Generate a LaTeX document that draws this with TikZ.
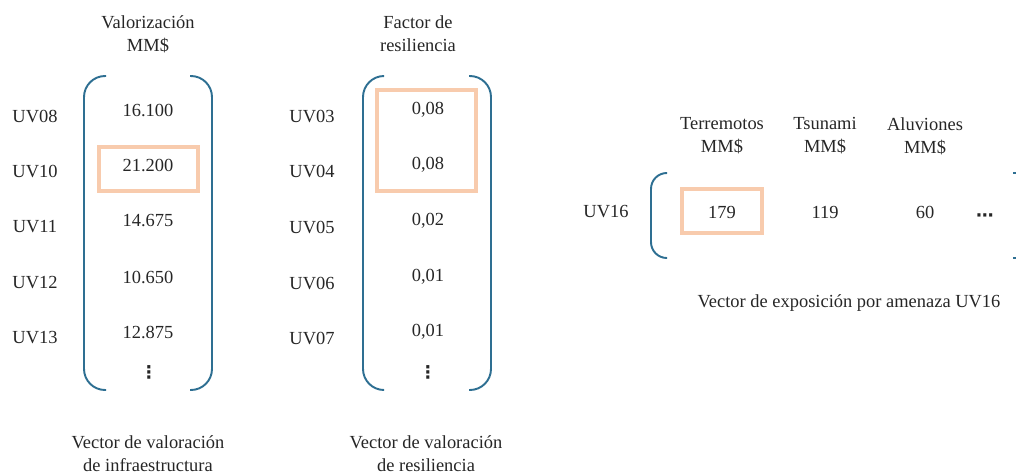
\documentclass[tikz,border=0pt]{standalone}
\usepackage{fontspec}
\setmainfont{Liberation Serif}
\newfontfamily\symfont{DejaVu Sans}
\usetikzlibrary{calc}

\definecolor{brk}{HTML}{2E6F92}
\definecolor{hl}{HTML}{F8CBAD}
\definecolor{txt}{HTML}{262626}

\begin{document}
\begin{tikzpicture}[
  x=0.02cm,y=-0.02cm,
  every node/.style={text=txt,font=\fontsize{10.5}{13}\selectfont,inner sep=1pt},
  head/.style={align=center},
  uv/.style={anchor=center},
  val/.style={anchor=center},
  capt/.style={align=center},
  dots/.style={font=\symfont\bfseries\fontsize{10}{12}\selectfont},
  paren/.style={draw=brk,line width=1.1pt,rounded corners=12pt},
  hlbox/.style={draw=hl,line width=2.4pt}]
\useasboundingbox (0,0) rectangle (1016,474);
\clip (0,0) rectangle (1016,474);

% vector 1: infraestructura
\node[head] (h1) at (148,34) {Valorización\\MM\$};
\draw[paren] (106,76) -- (84,76) -- (84,390) -- (106,390);
\draw[paren] (190,76) -- (212,76) -- (212,390) -- (190,390);
\foreach \y/\lab/\v [count=\i] in {116/UV08/16.100,171/UV10/21.200,227/UV11/14.675,
                                   283/UV12/10.650,338/UV13/12.875} {
  \node[uv] (a\i) at (35,\y) {\lab};
  \node[val] (va\i) at (148,\y-6) {\v};
}
\node[dots] (da) at (149,372) {⋮};
\draw[hlbox] (99,147) rectangle (198,191);
\node[capt] (c1) at (148,454) {Vector de valoración\\de infraestructura};

% vector 2: resiliencia
\node[head] (h2) at (418,34) {Factor de\\resiliencia};
\draw[paren] (384,76) -- (363,76) -- (363,390) -- (384,390);
\draw[paren] (469,76) -- (491,76) -- (491,390) -- (469,390);
\foreach \y/\lab/\v [count=\i] in {116/UV03/{0,08},171/UV04/{0,08},227/UV05/{0,02},
                                   283/UV06/{0,01},338/UV07/{0,01}} {
  \node[uv] (b\i) at (312,\y) {\lab};
  \node[val] (vb\i) at (428,\y-6) {\v};
}
\node[dots] (db) at (428,372) {⋮};
\draw[hlbox] (377,90) rectangle (476,191);
\node[capt] (c2) at (426,454) {Vector de valoración\\de resiliencia};

% vector 3: exposicion por amenaza
\node[uv] (u16) at (606,212) {UV16};
\draw[paren,rounded corners=9pt] (667,173) -- (651,173) -- (651,258) -- (667,258);
\draw[paren] (1013,173) -- (1045,173) -- (1045,258) -- (1013,258);
\foreach \x/\hd/\v [count=\i] in {722/Terremotos/179,825/Tsunami/119,925/Aluviones/60} {
  \node[head] (hc\i) at (\x,136) {\hd\\MM\$};
  \node[val] (vc\i) at (\x,212) {\v};
}
\node[dots] (dc) at (985,218) {⋯};
\draw[hlbox] (682,189) rectangle (762,233);
\node[capt] (c3) at (849,303) {Vector de exposición por amenaza UV16};
\end{tikzpicture}
\end{document}
